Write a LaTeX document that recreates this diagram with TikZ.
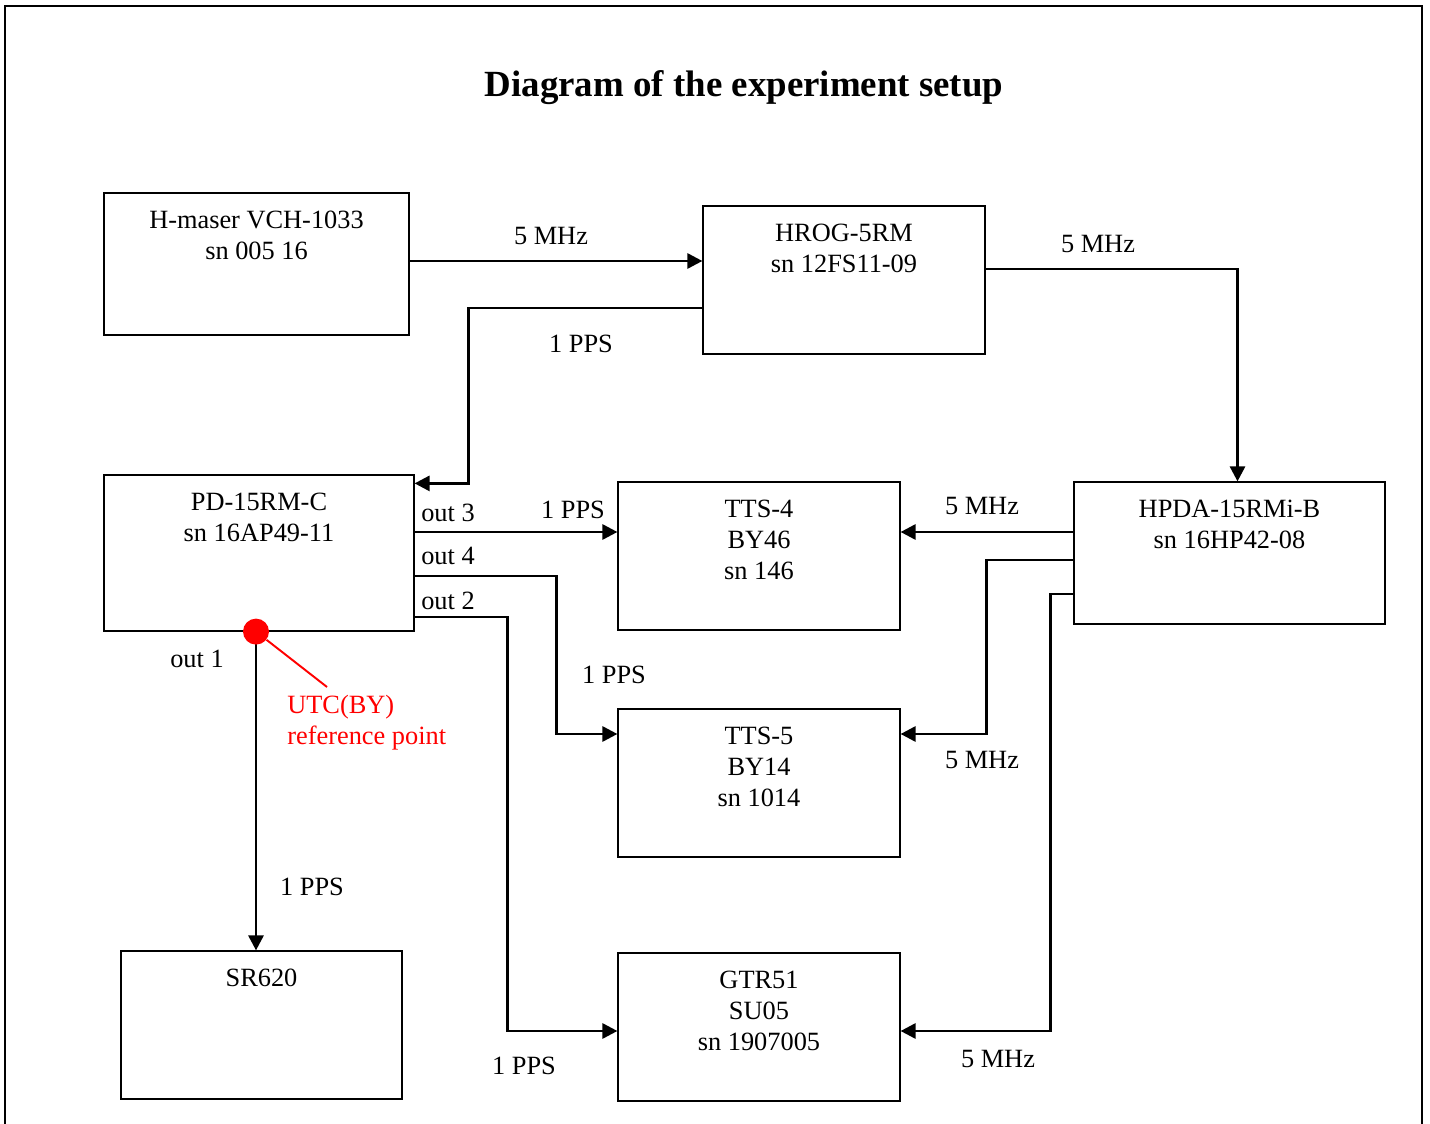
\documentclass[tikz,border=0pt]{standalone}
\usepackage{fontspec}
\setmainfont{Liberation Serif}
\usetikzlibrary{arrows.meta, calc}

\begin{document}
\begin{tikzpicture}[x=0.02cm, y=-0.02cm,
    font=\fontsize{15}{17.6}\selectfont,
    box/.style={draw, line width=0.7pt, inner sep=0pt},
    boxtext/.style={anchor=north, yshift=-7pt, align=center},
    conn/.style={line width=1.6pt, -{Triangle[length=8.5pt, width=8.5pt]}},
    lbl/.style={inner sep=0pt}]

    \useasboundingbox (0,0) rectangle (1430,1124);
    \draw[line width=1.2pt] (5,1140) -- (5,6) -- (1422,6) -- (1422,1140);

    \node[font=\fontsize{21}{25}\bfseries\selectfont] (title) at (744,88) {Diagram of the experiment setup};

    % devices
    \node[box, minimum width=6.1cm, minimum height=2.84cm,
        label={[boxtext]north:{H-maser VCH-1033\\sn 005 16}}] (maser) at (256.5,264) {};
    \node[box, minimum width=5.64cm, minimum height=2.96cm,
        label={[boxtext]north:{HROG-5RM\\sn 12FS11-09}}] (hrog) at (844,280) {};
    \node[box, minimum width=6.2cm, minimum height=3.12cm,
        label={[boxtext]north:{PD-15RM-C\\sn 16AP49-11}}] (pd) at (259,553) {};
    \node[box, minimum width=5.64cm, minimum height=2.96cm,
        label={[boxtext]north:{TTS-4\\BY46\\sn 146}}] (tts4) at (759,556) {};
    \node[box, minimum width=6.22cm, minimum height=2.84cm,
        label={[boxtext]north:{HPDA-15RMi-B\\sn 16HP42-08}}] (hpda) at (1229.5,553) {};
    \node[box, minimum width=5.64cm, minimum height=2.96cm,
        label={[boxtext]north:{TTS-5\\BY14\\sn 1014}}] (tts5) at (759,783) {};
    \node[box, minimum width=5.62cm, minimum height=2.96cm,
        label={[boxtext]north:{SR620}}] (sr) at (261.5,1025) {};
    \node[box, minimum width=5.64cm, minimum height=2.96cm,
        label={[boxtext]north:{GTR51\\SU05\\sn 1907005}}] (gtr) at (759,1027) {};

    % signals
    \draw[conn] ($(maser.east)+(0,-3)$) -- ($(maser.east -| hrog.west)+(0,-3)$);
    \draw[conn] ($(hrog.west)+(0,28)$) -- ++(-234,0) |- ($(pd.north east)+(0,9)$);
    \draw[conn] ($(hrog.east)+(0,-11)$) -| ($(hpda.north)+(8,0)$);

    \draw[conn] ($(pd.east)+(0,-21)$) -- ($(tts4.west)+(0,-24)$);
    \draw[conn] ($(pd.east)+(0,23)$) -- ++(142,0) |- ($(tts5.west)+(0,-49)$);
    \draw[conn] ($(pd.east)+(0,64)$) -- ++(93,0) |- ($(gtr.west)+(0,4)$);

    \coordinate (ref) at ($(pd.south)+(-3,0)$);
    \draw[conn] (ref) -- (ref |- sr.north);

    \draw[conn] ($(hpda.west)+(0,-21)$) -- ($(tts4.east)+(0,-24)$);
    \draw[conn] ($(hpda.west)+(0,7)$) -- ++(-87,0) |- ($(tts5.east)+(0,-49)$);
    \draw[conn] ($(hpda.west)+(0,41)$) -- ++(-23,0) |- ($(gtr.east)+(0,4)$);

    \node[lbl] (f1) at (551,236) {5 MHz};
    \node[lbl] (p1) at (581,344) {1 PPS};
    \node[lbl] (f2) at (1098,244) {5 MHz};
    \node[lbl] (o3) at (448,513) {out 3};
    \node[lbl] (p3) at (573,510) {1 PPS};
    \node[lbl] (o4) at (448,556) {out 4};
    \node[lbl] (o2) at (448,601) {out 2};
    \node[lbl] (p4) at (614,675) {1 PPS};
    \node[lbl] (o1) at (197,659) {out 1};
    \node[lbl] (p5) at (312,887) {1 PPS};
    \node[lbl] (p2) at (524,1066) {1 PPS};
    \node[lbl] (f3) at (982,506) {5 MHz};
    \node[lbl] (f4) at (982,760) {5 MHz};
    \node[lbl] (f5) at (998,1059) {5 MHz};

    % reference point
    \node[circle, fill=red, minimum size=0.52cm, inner sep=0pt] (refdot) at (ref) {};
    \coordinate (utctip) at (327,687);
    \draw[red, line width=1.1pt] (refdot) -- (utctip);
    \node[lbl, red, anchor=west, align=left] (utc) at (287,723) {UTC(BY)\\reference point};

\end{tikzpicture}
\end{document}
